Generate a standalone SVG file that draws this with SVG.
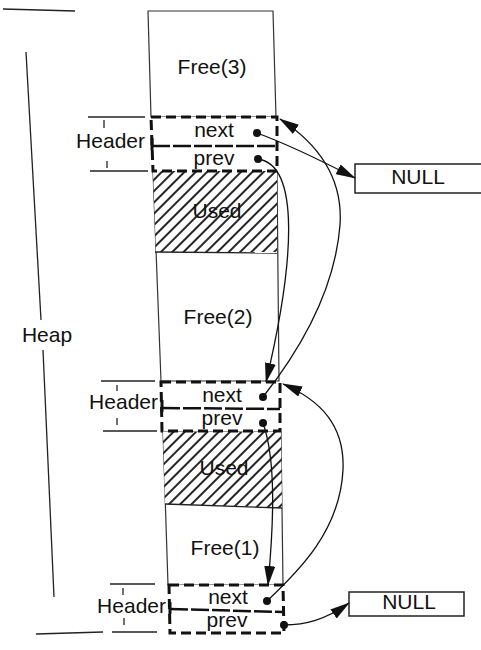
<svg xmlns="http://www.w3.org/2000/svg" width="481" height="650" viewBox="0 0 481 650">
<defs>
<style>
.t{font-family:"Liberation Sans",Arial,sans-serif;font-size:21px;fill:#111}
.ln{stroke:#222;stroke-width:1.3;fill:none}
.col{stroke:#333;stroke-width:1.2;fill:#fff}
.hdr{stroke:#111;stroke-width:3;stroke-dasharray:10 5;fill:none}
.div{stroke:#111;stroke-width:2.5;stroke-dasharray:18 3;fill:none}
.arr{stroke:#111;stroke-width:1.3;fill:none;marker-end:url(#ah)}
.dot{fill:#111}
.null{stroke:#222;stroke-width:1.5;fill:#fff}
</style>
<pattern id="hatch" width="8" height="8" patternUnits="userSpaceOnUse" patternTransform="rotate(45)">
<rect width="8" height="8" fill="#fff"/>
<line x1="4" y1="-1" x2="4" y2="9" stroke="#1a1a1a" stroke-width="1.9"/>
</pattern>
<marker id="ah" markerWidth="20" markerHeight="11" refX="19" refY="5.5" orient="auto" markerUnits="userSpaceOnUse">
<path d="M0,0 L20,5.5 L0,11 z" fill="#111"/>
</marker>
</defs>
<rect width="481" height="650" fill="#fff"/>

<g id="heap-bracket">
<line class="ln" x1="3" y1="9" x2="75" y2="11"/>
<line class="ln" x1="26" y1="52" x2="41" y2="320"/>
<line class="ln" x1="43" y1="350" x2="54" y2="597"/>
<line class="ln" x1="36" y1="634" x2="103" y2="632"/>
<text class="t" x="47" y="342" text-anchor="middle">Heap</text>
</g>

<g id="free3">
<polygon class="col" points="148,11 273,11 276,117 151,117"/>
<text class="t" x="212" y="74" text-anchor="middle" font-size="22">Free(3)</text>
</g>

<g id="used1">
<polygon class="col" points="153,171 277,171 279,381 161,381"/>
<polygon points="153,171 277,171 277,252 156,252" fill="url(#hatch)" stroke="none"/>
<line class="ln" x1="155" y1="252" x2="277" y2="253"/>
<text class="t" x="217" y="218" text-anchor="middle">Used</text>
</g>

<g id="free2">
<text class="t" x="218" y="324" text-anchor="middle">Free(2)</text>
</g>

<g id="used2">
<polygon class="col" points="163,432 281,432 283,585 168,585"/>
<polygon points="163,432 281,432 282,508 165,504" fill="url(#hatch)" stroke="none"/>
<line class="ln" x1="165" y1="504" x2="282" y2="508"/>
<text class="t" x="224" y="475" text-anchor="middle">Used</text>
</g>

<g id="free1">
<text class="t" x="225" y="555" text-anchor="middle">Free(1)</text>
</g>

<g id="header1">
<line class="ln" x1="88" y1="117" x2="145" y2="117"/>
<line class="ln" x1="90" y1="171" x2="148" y2="171"/>
<line class="ln" x1="104" y1="120" x2="104" y2="128"/>
<line class="ln" x1="107" y1="161" x2="107" y2="168"/>
<text class="t" x="145" y="148" text-anchor="end" font-size="19.5">Header</text>
<rect x="151" y="117" width="126" height="54" fill="#fff"/>
<polygon class="hdr" points="151,117 277,117 277,171 153,171"/>
<line class="div" x1="152" y1="146" x2="277" y2="146"/>
<line x1="152" y1="138" x2="152" y2="150" stroke="#111" stroke-width="3"/>
<text class="t" x="214" y="137" text-anchor="middle">next</text>
<text class="t" x="214" y="165" text-anchor="middle">prev</text>
<circle class="dot" cx="257" cy="133" r="4"/>
<circle class="dot" cx="258" cy="159" r="4"/>
</g>

<g id="header2">
<line class="ln" x1="101" y1="381" x2="155" y2="381"/>
<line class="ln" x1="103" y1="431" x2="157" y2="431"/>
<line class="ln" x1="117" y1="385" x2="117" y2="391"/>
<line class="ln" x1="117" y1="418" x2="117" y2="425"/>
<text class="t" x="158" y="409" text-anchor="end" font-size="19.5">Header</text>
<rect x="161" y="382" width="119" height="49" fill="#fff"/>
<polygon class="hdr" points="161,382 280,382 280,431 162,431"/>
<line class="div" x1="162" y1="408" x2="280" y2="409"/>
<line x1="162" y1="400" x2="162" y2="412" stroke="#111" stroke-width="3"/>
<text class="t" x="222" y="402" text-anchor="middle">next</text>
<text class="t" x="222" y="425" text-anchor="middle">prev</text>
<circle class="dot" cx="263" cy="397" r="4"/>
<circle class="dot" cx="263" cy="423" r="4"/>
</g>

<g id="header3">
<line class="ln" x1="110" y1="584" x2="155" y2="584"/>
<line class="ln" x1="112" y1="632" x2="157" y2="632"/>
<line class="ln" x1="123" y1="588" x2="123" y2="595"/>
<line class="ln" x1="124" y1="618" x2="124" y2="625"/>
<text class="t" x="166" y="613" text-anchor="end" font-size="19.5">Header</text>
<rect x="169" y="585" width="114" height="48" fill="#fff"/>
<polygon class="hdr" points="169,585 283,585 284,633 170,633"/>
<line class="div" x1="170" y1="609" x2="284" y2="612"/>
<line x1="170" y1="602" x2="170" y2="614" stroke="#111" stroke-width="3"/>
<text class="t" x="228" y="604" text-anchor="middle">next</text>
<text class="t" x="227" y="627" text-anchor="middle">prev</text>
<circle class="dot" cx="267" cy="601" r="4"/>
<circle class="dot" cx="284" cy="625" r="4"/>
</g>

<g id="null1">
<rect class="null" x="355" y="164" width="128" height="29"/>
<text class="t" x="418" y="184" text-anchor="middle" font-size="22">NULL</text>
</g>

<g id="null2">
<rect class="null" x="349" y="592" width="115" height="24"/>
<text class="t" x="409" y="609" text-anchor="middle">NULL</text>
</g>

<g id="connectors">
<path class="arr" d="M257,133 C290,145 320,160 355,178"/>
<path class="arr" d="M258,159 C300,165 295,260 266,382"/>
<path class="arr" d="M263,397 C300,350 335,290 340,225 C343,180 320,145 280,119"/>
<path class="arr" d="M263,423 C276,460 274,520 268,585"/>
<path class="arr" d="M267,601 C300,570 340,530 343,470 C345,425 320,400 283,384"/>
<path class="arr" d="M284,625 C305,625 325,620 349,603"/>
</g>
</svg>
